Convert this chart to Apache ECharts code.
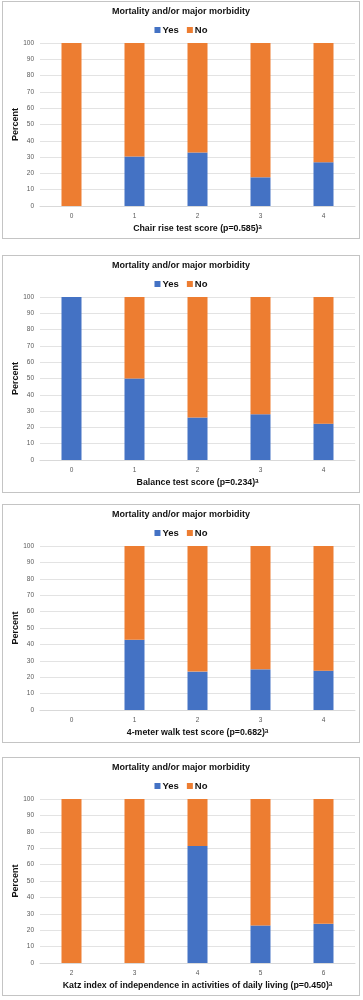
<!DOCTYPE html>
<html>
<head>
<meta charset="UTF-8">
<script src="https://cdn.jsdelivr.net/npm/echarts@6/dist/echarts.min.js"></script>
<style>
  body { margin: 0; background: #fff; }
  .box { position: absolute; left: 2px; width: 358px; border: 1px solid #c4c4c4; box-sizing: border-box; }
  .box div { width: 100%; height: 100%; }
</style>
</head>
<body>
<div class="box" style="top:1px;height:238px"><div id="c1"></div></div>
<div class="box" style="top:255px;height:238px"><div id="c2"></div></div>
<div class="box" style="top:504px;height:239px"><div id="c3"></div></div>
<div class="box" style="top:757px;height:239px"><div id="c4"></div></div>
<script>
// data (percent)
var scoreCats = ['0', '1', '2', '3', '4'];
var katzCats = ['2', '3', '4', '5', '6'];

var chairYes = [0, 30.4, 32.8, 17.6, 26.9];
var chairNo = [100, 69.6, 67.2, 82.4, 73.1];

var balanceYes = [100, 50, 26, 28, 22.3];
var balanceNo = [0, 50, 74, 72, 77.7];

var walkYes = [null, 42.9, 23.4, 24.8, 24];
var walkNo = [null, 57.1, 76.6, 75.2, 76];

var katzYes = [0, 0, 71.4, 22.9, 23.9];
var katzNo = [100, 100, 28.6, 77.1, 76.1];

var yTicks = [0, 10, 20, 30, 40, 50, 60, 70, 80, 90, 100];

var font = '"Liberation Sans", Arial, sans-serif';

function makeChart(id, cats, yes, no, xName) {
  var chart = echarts.init(document.getElementById(id));
  chart.setOption({
    animation: false,
    textStyle: { fontFamily: font },
    title: {
      text: 'Mortality and/or major morbidity',
      left: 'center', top: 5, padding: 0,
      textStyle: { fontSize: 9, fontWeight: 'bold', color: '#111', fontFamily: font }
    },
    legend: {
      data: ['Yes', 'No'],
      top: 23, left: 'center', padding: 0,
      itemWidth: 6, itemHeight: 6, itemGap: 8,
      icon: 'rect',
      textStyle: { fontSize: 9.5, fontWeight: 'bold', color: '#111', fontFamily: font, padding: [0, 0, 0, -3] }
    },
    grid: { left: 37, right: 4, top: 41, bottom: 32, outerBoundsMode: 'none' },
    xAxis: {
      type: 'category',
      data: cats,
      name: xName,
      nameLocation: 'middle',
      nameGap: 18,
      nameMoveOverlap: false,
      nameTextStyle: { fontSize: 8.8, fontWeight: 'bold', color: '#111', fontFamily: font },
      axisLine: { lineStyle: { color: '#d9d9d9' } },
      axisTick: { show: false },
      axisLabel: { fontSize: 6.5, color: '#595959', margin: 7 }
    },
    yAxis: {
      type: 'value',
      min: yTicks[0], max: yTicks[yTicks.length - 1], interval: 10,
      name: 'Percent',
      nameLocation: 'middle',
      nameGap: 20,
      nameMoveOverlap: false,
      nameTextStyle: { fontSize: 9, fontWeight: 'bold', color: '#111', fontFamily: font },
      axisLabel: { fontSize: 6.5, color: '#595959', margin: 6 },
      splitLine: { lineStyle: { color: '#e3e3e3' } }
    },
    series: [
      { name: 'Yes', type: 'bar', stack: 'all', data: yes, barWidth: 20, itemStyle: { color: '#4472c4' } },
      { name: 'No', type: 'bar', stack: 'all', data: no, barWidth: 20, itemStyle: { color: '#ed7d31' } }
    ]
  });
}

makeChart('c1', scoreCats, chairYes, chairNo, 'Chair rise test score (p=0.585)ᵃ');
makeChart('c2', scoreCats, balanceYes, balanceNo, 'Balance test score (p=0.234)ᵃ');
makeChart('c3', scoreCats, walkYes, walkNo, '4-meter walk test score (p=0.682)ᵃ');
makeChart('c4', katzCats, katzYes, katzNo, 'Katz index of independence in activities of daily living (p=0.450)ᵃ');
</script>
</body>
</html>
